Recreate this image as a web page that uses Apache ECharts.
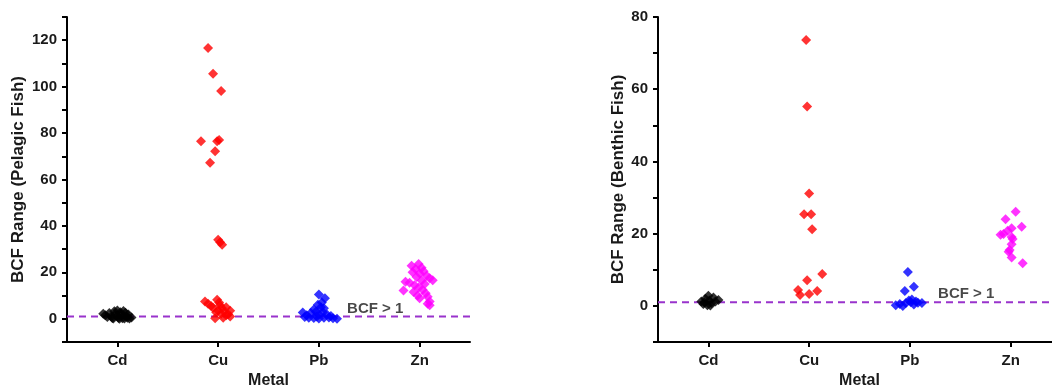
<!DOCTYPE html>
<html>
<head>
<meta charset="utf-8">
<script src="https://cdn.jsdelivr.net/npm/echarts@6/dist/echarts.min.js"></script>
<style>html,body{margin:0;padding:0;background:#fff;}#c{width:1052px;height:389px;}</style>
</head>
<body>
<div id="c"></div>
<script>
// Categories (x position 1..4), jittered x positions
const categories = ['Cd', 'Cu', 'Pb', 'Zn'];

// Pelagic fish: [x position, BCF]
const pelagicCd = [[0.86,2.2],[0.88,1.5],[0.9,0.8],[0.92,2.5],[0.94,1.0],[0.95,0.3],[0.97,3.2],[0.98,2.0],[1.0,3.6],[1.0,1.2],[1.01,0.5],[1.03,2.8],[1.04,1.8],[1.05,0.2],[1.06,3.4],[1.08,2.6],[1.09,1.0],[1.1,0.4],[1.11,1.8],[1.12,0.1],[1.14,0.6],[0.96,0.1],[1.02,0.0],[1.07,0.1]];
const pelagicCu = [[1.9,116.7],[1.95,105.6],[2.03,98.1],[1.83,76.5],[1.99,76.5],[2.01,77.0],[1.97,72.2],[1.92,67.2],[2.0,34.1],[2.02,33.0],[2.04,31.9],
  [1.87,7.5],[1.9,6.5],[1.93,5.5],[1.95,4.8],[1.99,8.2],[2.01,7.0],[2.02,5.8],[2.04,4.5],[2.0,3.5],[2.06,3.0],[2.08,5.0],[2.1,2.0],[2.12,1.0],[1.97,0.2],[2.05,0.5],[2.08,1.5],[2.03,2.2],[1.98,2.8],[2.12,3.5]];
const pelagicPb = [[3.0,10.5],[3.06,8.8],[3.03,7.0],[2.99,6.0],[3.02,5.0],[2.95,4.0],[3.05,4.5],[2.84,2.7],[2.88,1.5],[2.92,2.5],[2.97,3.0],[3.0,2.0],[3.04,2.8],[3.08,1.8],[2.9,0.5],[2.95,0.3],[3.0,0.1],[3.05,0.4],[3.1,0.6],[3.14,0.2],[3.18,0.0],[3.12,1.2],[2.98,1.0],[2.86,0.8]];
const pelagicZn = [[3.92,22.9],[3.99,23.6],[4.02,22.0],[3.96,21.5],[4.04,20.5],[3.93,20.0],[4.0,19.5],[4.07,18.5],[3.97,18.0],[4.13,16.6],[4.1,17.5],[3.86,16.0],[3.9,15.5],[4.02,16.5],[3.95,14.5],[4.05,15.0],[3.99,13.5],[4.03,12.5],[3.84,12.2],[3.94,11.5],[4.06,11.0],[3.98,10.0],[4.08,9.5],[4.0,8.8],[4.1,7.5],[4.1,5.8],[4.08,6.5]];

// Benthic fish: [x position, BCF]
const benthicCd = [[0.93,1.2],[0.95,0.5],[0.97,2.0],[0.99,0.2],[1.0,2.8],[1.01,1.5],[1.03,0.8],[1.05,2.3],[1.07,1.2],[1.1,1.6],[0.96,1.0],[1.02,0.1]];
const benthicCu = [[1.97,73.6],[1.98,55.2],[2.0,31.1],[1.95,25.4],[2.02,25.4],[2.03,21.2],[2.13,8.8],[1.98,7.1],[1.89,4.4],[1.91,3.0],[2.0,3.3],[2.08,4.1]];
const benthicPb = [[2.86,0.2],[2.9,0.5],[2.93,0.0],[2.96,0.8],[2.99,1.5],[3.01,1.0],[3.04,0.4],[3.06,1.2],[3.08,0.9],[3.12,0.8],[2.98,9.4],[2.95,4.1],[3.04,5.3],[3.02,1.8]];
const benthicZn = [[4.05,26.1],[3.95,24.0],[4.11,21.9],[4.01,21.5],[3.97,20.8],[3.9,19.7],[3.93,19.9],[4.01,19.1],[4.01,17.1],[3.99,15.5],[3.98,15.0],[4.01,13.4],[4.12,11.8],[4.02,18.5]];

const threshold = 1;
const thresholdLabel = 'BCF > 1';
const pelagicLabelPos = [3.28, 4.3];
const benthicLabelPos = [3.28, 3.2];

const yTicksPelagic = {min: -10, max: 130};
const yTicksBenthic = {min: -10, max: 80};

const colors = ['#000000', '#ff0000', '#0000ff', '#ff00ff'];
const font = 'Liberation Sans, Arial, sans-serif';

function xAxis(gi) {
  return {
    type: 'value', gridIndex: gi, min: 0.5, max: 4.5,
    name: 'Metal', nameLocation: 'middle', nameGap: 31,
    nameTextStyle: {fontFamily: font, fontWeight: 'bold', fontSize: 16, color: '#1a1a1a'},
    axisLine: {show: true, onZero: false, lineStyle: {color: '#000', width: 2}},
    axisTick: {show: true, length: 5, lineStyle: {color: '#000', width: 2}, customValues: [1,2,3,4]},
    axisLabel: {customValues: [1,2,3,4], formatter: v => categories[Math.round(v) - 1] || '', margin: 11,
      fontFamily: font, fontWeight: 'bold', fontSize: 15, color: '#1a1a1a'},
    splitLine: {show: false}
  };
}
function yAxis(gi, r, title, gap) {
  return {
    type: 'value', gridIndex: gi, min: r.min, max: r.max, interval: 10,
    name: title, nameLocation: 'middle', nameGap: gap, nameRotate: 90,
    nameTextStyle: {fontFamily: font, fontWeight: 'bold', fontSize: 17, color: '#1a1a1a'},
    axisLine: {show: true, onZero: false, lineStyle: {color: '#000', width: 2}},
    axisTick: {show: true, length: 5, lineStyle: {color: '#000', width: 2}},
    axisLabel: {formatter: v => (v >= 0 && v % 20 === 0) ? String(v) : '', margin: 10,
      fontFamily: font, fontWeight: 'bold', fontSize: 15, color: '#1a1a1a'},
    splitLine: {show: false}
  };
}
function scatter(gi, data, color) {
  return {type: 'scatter', xAxisIndex: gi, yAxisIndex: gi, data: data, symbol: 'diamond', symbolSize: 10,
    itemStyle: {color: color}, silent: true, z: 3};
}
function refLine(gi, labelPos) {
  return [
    {type: 'line', xAxisIndex: gi, yAxisIndex: gi, data: [[0.5, threshold], [4.5, threshold]], symbol: 'none',
      lineStyle: {color: '#9933cc', width: 2, type: [7, 5]}, z: 2, silent: true},
    {type: 'scatter', xAxisIndex: gi, yAxisIndex: gi, data: [labelPos], symbolSize: 0,
      label: {show: true, position: 'right', distance: 0, formatter: thresholdLabel,
        fontFamily: font, fontWeight: 'bold', fontSize: 15, color: '#1a1a1a'}, silent: true, z: 4}
  ];
}

const chart = echarts.init(document.getElementById('c'), null, {renderer: 'canvas'});
chart.setOption({
  animation: false,
  backgroundColor: '#fff',
  grid: [
    {left: 67, top: 17, width: 403, height: 325, outerBoundsMode: 'none', containLabel: false},
    {left: 658, top: 17, width: 403, height: 325, outerBoundsMode: 'none', containLabel: false}
  ],
  xAxis: [xAxis(0), xAxis(1)],
  yAxis: [yAxis(0, yTicksPelagic, 'BCF Range (Pelagic Fish)', 40), yAxis(1, yTicksBenthic, 'BCF Range (Benthic Fish)', 31)],
  series: [
    ...refLine(0, pelagicLabelPos),
    scatter(0, pelagicCd, colors[0]), scatter(0, pelagicCu, colors[1]), scatter(0, pelagicPb, colors[2]), scatter(0, pelagicZn, colors[3]),
    ...refLine(1, benthicLabelPos),
    scatter(1, benthicCd, colors[0]), scatter(1, benthicCu, colors[1]), scatter(1, benthicPb, colors[2]), scatter(1, benthicZn, colors[3])
  ]
});
</script>
</body>
</html>
